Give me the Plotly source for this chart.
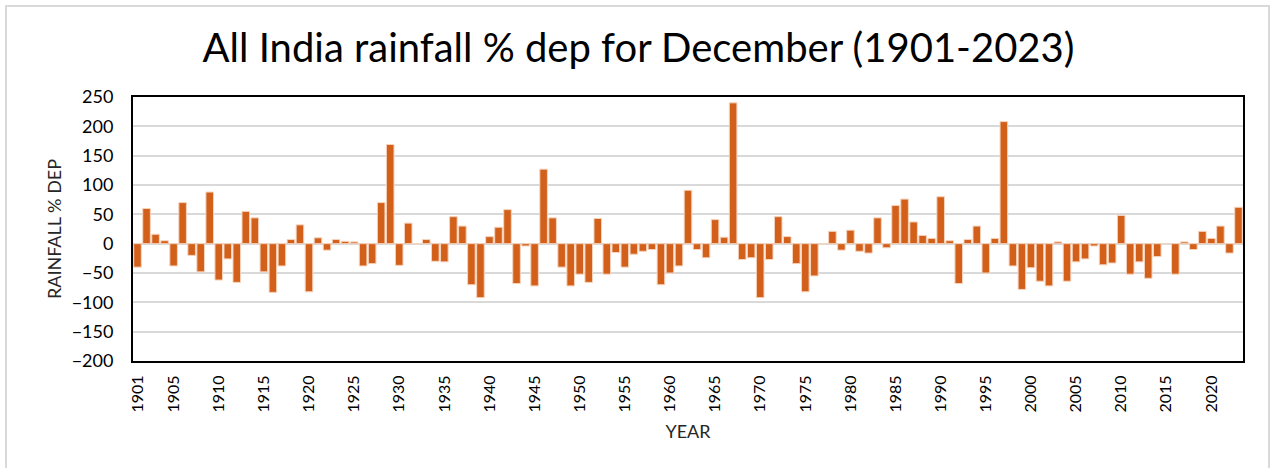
import plotly.graph_objects as go

years = list(range(1901, 2024))
dep = [
    -40, 60, 16, 5, -38, 70, -20, -48, 88, -62,
    -26, -66, 55, 44, -48, -83, -38, 7, 32, -82,
    10, -11, 7, 4, 3, -38, -34, 70, 169, -37,
    35, 0, 7, -30, -31, 46, 30, -70, -92, 12,
    28, 58, -68, -4, -72, 127, 44, -40, -72, -52,
    -66, 43, -52, -15, -40, -18, -13, -10, -70, -50,
    -38, 91, -10, -24, 41, 11, 240, -27, -24, -92,
    -27, 46, 12, -34, -82, -55, 0, 21, -11, 23,
    -13, -16, 44, -7, 65, 76, 37, 14, 9, 80,
    5, -68, 7, 30, -50, 9, 208, -38, -78, -41,
    -64, -72, 3, -64, -31, -26, -4, -36, -33, 48,
    -52, -31, -59, -22, 0, -52, 3, -10, 21, 9,
    30, -16, 62,
]
tick_years = [1901] + list(range(1905, 2021, 5))
y_ticks = list(range(-200, 251, 50))

FONT = "Lato"
L, R, T, B = 133, 1243, 97, 361
W, H = 1277, 468
pw, ph = R - L, B - T

fig = go.Figure(go.Bar(
    x=years, y=dep,
    marker=dict(color="#D2601A", line=dict(color="#F6D3BC", width=1)),
))

fig.update_layout(
    width=W, height=H,
    margin=dict(l=L, r=W - R, t=T, b=H - B, autoexpand=False),
    paper_bgcolor="white", plot_bgcolor="white",
    bargap=0.16,
    showlegend=False,
    font=dict(family=FONT, color="#262626"),
    title=dict(text="All India rainfall % dep for December (1901-2023)",
               x=0.5, xref="container", xanchor="center",
               y=1 - 48 / H, yref="container", yanchor="middle",
               font=dict(size=40, family=FONT, color="#000000")),
    xaxis=dict(range=[1900.5, 2023.5], tickvals=tick_years,
               ticktext=[str(t) for t in tick_years], tickangle=-90,
               showgrid=False, zeroline=False, ticks="",
               tickfont=dict(size=16, family=FONT, color="#000000"),
               showline=True, linecolor="black", linewidth=2, mirror=True,
               ticklabelstandoff=6,
               title=dict(text="YEAR", font=dict(size=18, family=FONT, color="#262626"),
                          standoff=14)),
    yaxis=dict(range=[-200, 250], tickvals=y_ticks, ticks="",
               tickfont=dict(size=18, family=FONT, color="#000000"),
               gridcolor="#D9D9D9", gridwidth=2,
               zeroline=True, zerolinecolor="#D9D9D9", zerolinewidth=2,
               showline=True, linecolor="black", linewidth=2, mirror=True,
               ticklabelstandoff=14,
               title=dict(text="RAINFALL % DEP", font=dict(size=18, family=FONT, color="#262626"),
                          standoff=5)),
)

fig.add_shape(type="rect", xref="paper", yref="paper",
              x0=(6 - L) / pw, x1=(1269 - L) / pw,
              y0=(B - 475) / ph, y1=(B - 6) / ph,
              line=dict(color="#D9D9D9", width=2), fillcolor="rgba(0,0,0,0)",
              layer="below")

fig.write_html("out.html", config={"displayModeBar": False},
               post_script="document.body.style.margin='0';document.body.style.overflow='hidden';")
